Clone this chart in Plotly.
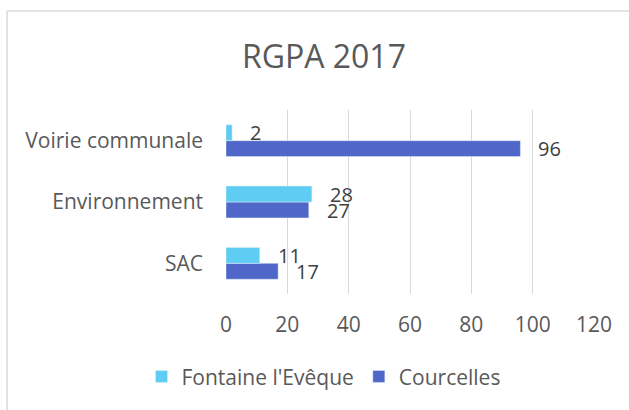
import plotly.graph_objects as go

# data
categories = ["SAC", "Environnement", "Voirie communale"]
fontaine = [11, 28, 2]
courcelles = [17, 27, 96]
x_ticks = [0, 20, 40, 60, 80, 100, 120]

FONT = "Open Sans"
GREY = "#595959"

fig = go.Figure()

# Courcelles first so it sits below Fontaine inside each group
fig.add_trace(go.Bar(
    y=categories, x=courcelles, orientation="h",
    name="Courcelles", marker=dict(color="#4E67C8"),
    hoverinfo="x+name",
))
fig.add_trace(go.Bar(
    y=categories, x=fontaine, orientation="h",
    name="Fontaine l'Evêque", marker=dict(color="#5ECCF3"),
    hoverinfo="x+name",
))

# value labels just outside the bar ends
annotations = []
for vals, shift in [(courcelles, -8), (fontaine, 8)]:
    for cat, v in zip(categories, vals):
        annotations.append(dict(
            x=v, y=cat, text=str(v), showarrow=False,
            xanchor="left", yanchor="middle",
            xshift=16, yshift=shift,
            font=dict(family=FONT, size=20, color="#404040"),
        ))

# chart-area border (only left and top edges show in the crop)
shapes = [
    dict(type="line", xref="paper", yref="paper",
         x0=-0.595, x1=1.2, y0=1.538, y1=1.538,
         line=dict(color="#D9D9D9", width=1.5)),
    dict(type="line", xref="paper", yref="paper",
         x0=-0.595, x1=-0.595, y0=1.538, y1=-0.7,
         line=dict(color="#D9D9D9", width=1.5)),
]

fig.update_layout(
    width=629, height=410,
    margin=dict(l=226, r=35, t=110, b=114),
    paper_bgcolor="white", plot_bgcolor="white",
    barmode="group", bargap=0.48, bargroupgap=0,
    title=dict(text="RGPA 2017", x=0.515, xanchor="center",
               y=0.862, yanchor="middle",
               font=dict(family=FONT, size=32, color=GREY)),
    font=dict(family=FONT, size=21, color=GREY),
    xaxis=dict(range=[0, 120], tickvals=x_ticks, showgrid=True,
               gridcolor="#D9D9D9", gridwidth=1, zeroline=False,
               showline=False, ticks="", ticklabelstandoff=16,
               tickfont=dict(family=FONT, size=21, color=GREY),
               fixedrange=True),
    yaxis=dict(categoryorder="array", categoryarray=categories,
               showgrid=False, zeroline=False, showline=False,
               ticks="", ticklabelstandoff=22,
               tickfont=dict(family=FONT, size=21, color=GREY),
               fixedrange=True),
    legend=dict(orientation="h", traceorder="reversed",
                x=0.265, xanchor="center", y=-0.45, yanchor="middle",
                font=dict(family=FONT, size=21, color=GREY),
                itemwidth=30),
    annotations=annotations,
    shapes=shapes,
    showlegend=True,
)

# drop the default 8px page margin so the figure sits at the window origin
fig.write_html("out.html", config={"displayModeBar": False},
               post_script="document.body.style.margin='0';")
